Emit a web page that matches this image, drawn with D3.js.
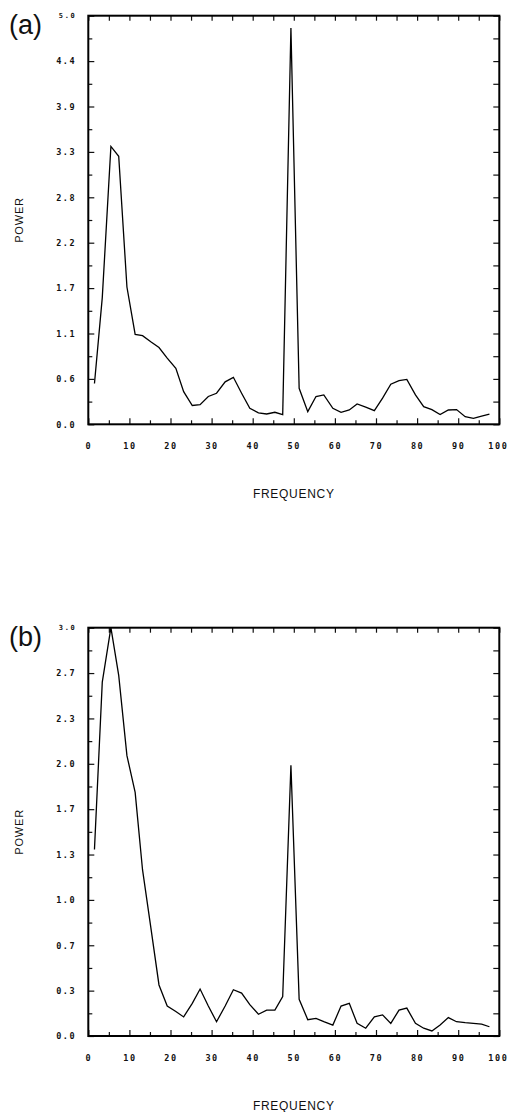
<!DOCTYPE html>
<html>
<head>
<meta charset="utf-8">
<script src="https://cdn.jsdelivr.net/npm/d3@7"></script>
<style>
  html, body { margin: 0; padding: 0; background: #fff; }
  svg { display: block; }
  .tick text { font-family: "DejaVu Sans Mono", monospace; font-weight: bold; font-size: 8.5px; letter-spacing: 1.6px; fill: #111; }
  .ttl { font-family: "Liberation Sans", Arial, sans-serif; fill: #111; }
</style>
</head>
<body>
<svg id="chart" width="508" height="1112"></svg>
<script>
// ---- data ----
const freq = [1.5, 3.4, 5.5, 7.4, 9.4, 11.4, 13.2, 15.2, 17.2, 19.2,
              21.3, 23.2, 25.3, 27.2, 29.2, 31.2, 33.3, 35.3, 37.3, 39.3,
              41.4, 43.4, 45.4, 47.3, 49.3, 51.3, 53.4, 55.4, 57.3, 59.5,
              61.5, 63.5, 65.4, 67.5, 69.6, 71.6, 73.6, 75.6, 77.5, 79.6,
              81.6, 83.6, 85.6, 87.6, 89.6, 91.7, 93.7, 95.7, 97.6];
const powerA = [0.50, 1.55, 3.40, 3.28, 1.68, 1.10, 1.085, 1.01, 0.94, 0.81,
                0.685, 0.40, 0.23, 0.24, 0.34, 0.38, 0.52, 0.575, 0.38, 0.195,
                0.14, 0.126, 0.147, 0.118, 4.85, 0.44, 0.155, 0.34, 0.36, 0.195,
                0.147, 0.175, 0.25, 0.21, 0.167, 0.32, 0.49, 0.535, 0.55, 0.36,
                0.215, 0.18, 0.12, 0.175, 0.18, 0.093, 0.073, 0.10, 0.126];
const powerB = [1.37, 2.60, 3.00, 2.65, 2.06, 1.79, 1.22, 0.80, 0.375, 0.22,
                0.18, 0.14, 0.24, 0.345, 0.22, 0.105, 0.22, 0.34, 0.315, 0.23,
                0.16, 0.19, 0.19, 0.29, 1.99, 0.27, 0.12, 0.13, 0.105, 0.08,
                0.22, 0.24, 0.093, 0.057, 0.14, 0.155, 0.093, 0.19, 0.205, 0.093,
                0.057, 0.037, 0.081, 0.135, 0.105, 0.098, 0.093, 0.088, 0.068];
const xTickLabels = ["0", "10", "20", "30", "40", "50", "60", "70", "80", "90", "100"];
const yTickLabelsA = ["0.0", "0.6", "1.1", "1.7", "2.2", "2.8", "3.3", "3.9", "4.4", "5.0"];
const yTickLabelsB = ["0.0", "0.3", "0.7", "1.0", "1.3", "1.7", "2.0", "2.3", "2.7", "3.0"];
const yMaxA = 5.0, yMaxB = 3.0;
const panelLabels = ["(a)", "(b)"];
const xTitle = "FREQUENCY", yTitle = "POWER";

// ---- layout ----
const svg = d3.select("#chart");
const L = 88.3, R = 499.3;
const panels = [
  { top: 15.7, bottom: 424.3, power: powerA, labels: yTickLabelsA, ymax: yMaxA, tag: panelLabels[0], tagY: 34 },
  { top: 627.7, bottom: 1036, power: powerB, labels: yTickLabelsB, ymax: yMaxB, tag: panelLabels[1], tagY: 646 }
];

const x = d3.scaleLinear().domain([0, 100]).range([L, R]);
const xMajor = xTickLabels.map(d => +d);
const xMinor = d3.range(5, 100, 10);

panels.forEach(p => {
  const y = d3.scaleLinear().domain([0, p.ymax]).range([p.bottom, p.top]);
  const n = p.labels.length - 1;
  const yMajor = p.labels.map((d, i) => p.ymax * i / n);
  const yMinor = d3.range(n).map(i => p.ymax * (i + 0.5) / n);
  const g = svg.append("g");

  // left axis, major with labels
  const left = g.append("g").attr("transform", `translate(${L},0)`)
    .call(d3.axisLeft(y).tickValues(yMajor).tickSize(-6).tickPadding(12)
      .tickFormat((d, i) => p.labels[i]));
  left.select(".tick:last-of-type text").style("font-size", "7px");
  g.append("g").attr("transform", `translate(${L},0)`)
    .call(d3.axisLeft(y).tickValues(yMinor).tickSize(-4).tickFormat(""));
  // right axis
  g.append("g").attr("transform", `translate(${R},0)`)
    .call(d3.axisRight(y).tickValues(yMajor.concat(yMinor)).tickSize(-6).tickFormat(""));
  // bottom axis
  const bottom = g.append("g").attr("transform", `translate(0,${p.bottom})`)
    .call(d3.axisBottom(x).tickValues(xMajor).tickSize(-6).tickPadding(19)
      .tickFormat((d, i) => xTickLabels[i]));
  // keep the last label ("100") inside the picture
  bottom.select(".tick:last-of-type text").attr("text-anchor", "end").attr("x", 508 - R);
  g.append("g").attr("transform", `translate(0,${p.bottom})`)
    .call(d3.axisBottom(x).tickValues(xMinor).tickSize(-4).tickFormat(""));
  // top axis
  g.append("g").attr("transform", `translate(0,${p.top})`)
    .call(d3.axisTop(x).tickValues(xMajor.concat(xMinor)).tickSize(-5).tickFormat(""));

  g.selectAll(".domain").remove();
  g.selectAll(".tick line").attr("stroke", "#111").attr("stroke-width", 1.2);

  // frame
  g.append("rect").attr("x", L).attr("y", p.top)
    .attr("width", R - L).attr("height", p.bottom - p.top)
    .attr("fill", "none").attr("stroke", "#000").attr("stroke-width", 2);

  // data line
  const line = d3.line().x((d, i) => x(freq[i])).y(d => y(d));
  g.append("path").datum(p.power).attr("d", line)
    .attr("fill", "none").attr("stroke", "#000").attr("stroke-width", 1.3)
    .attr("stroke-linejoin", "miter");

  // titles
  g.append("text").attr("class", "ttl").attr("x", (L + R) / 2).attr("y", p.bottom + 73.5)
    .attr("text-anchor", "middle").style("font-size", "12px").style("letter-spacing", "0.7px")
    .text(xTitle);
  g.append("text").attr("class", "ttl")
    .attr("transform", `translate(23,${(p.top + p.bottom) / 2}) rotate(-90)`)
    .attr("text-anchor", "middle").style("font-size", "11px").style("letter-spacing", "0.8px")
    .text(yTitle);
  g.append("text").attr("class", "ttl").attr("x", 9).attr("y", p.tagY)
    .style("font-size", "27px").text(p.tag);
});
</script>
</body>
</html>
